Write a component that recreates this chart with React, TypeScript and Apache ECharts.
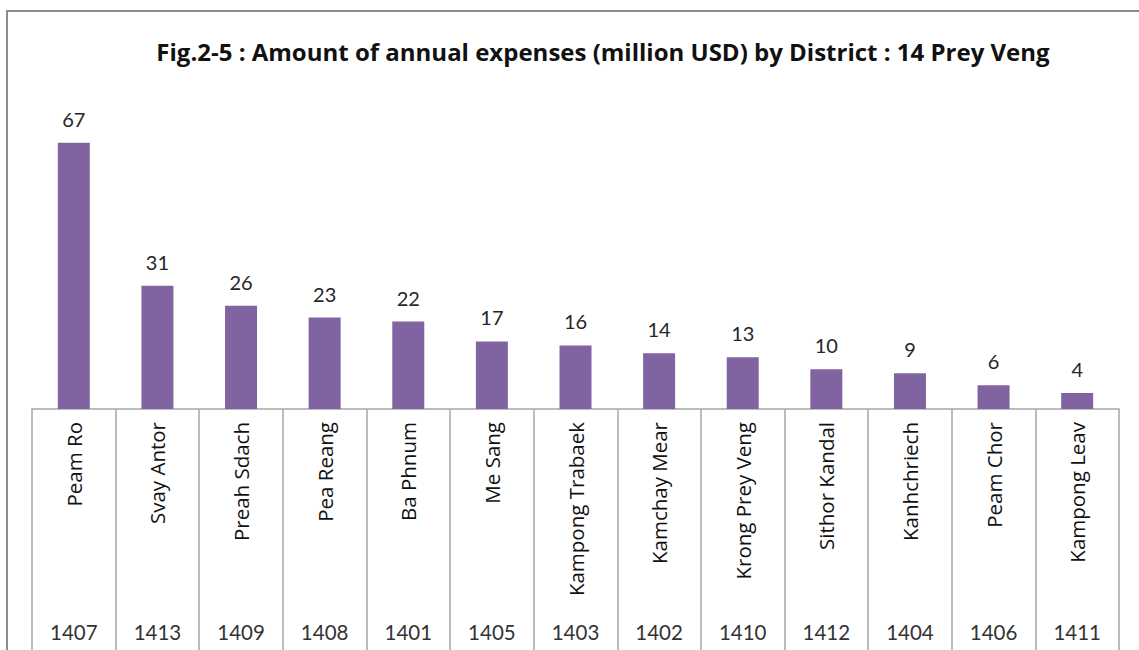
import React, { useEffect, useRef } from "react";
import * as echarts from "echarts";

const titleText = "Fig.2-5 : Amount of annual expenses (million USD) by District : 14 Prey Veng";
const districts = [
  "Peam Ro", "Svay Antor", "Preah Sdach", "Pea Reang", "Ba Phnum", "Me Sang",
  "Kampong Trabaek", "Kamchay Mear", "Krong Prey Veng", "Sithor Kandal",
  "Kanhchriech", "Peam Chor", "Kampong Leav",
];
const codes = ["1407", "1413", "1409", "1408", "1401", "1405", "1403", "1402", "1410", "1412", "1404", "1406", "1411"];
const expenses = [67, 31, 26, 23, 22, 17, 16, 14, 13, 10, 9, 6, 4];

const FONT = "Lato, 'Noto Sans', sans-serif";
const WIDE = "'Open Sans', 'Noto Sans', sans-serif";

export default function App() {
  const ref = useRef<HTMLDivElement>(null);
  useEffect(() => {
    if (!ref.current) return;
    const chart = echarts.init(ref.current, null, { renderer: "svg" });
    chart.setOption({
      animation: false,
      backgroundColor: "#ffffff",
      title: {
        text: titleText,
        left: 598,
        textAlign: "center",
        top: 34,
        textStyle: { fontFamily: WIDE, fontWeight: "bold", fontSize: 24, color: "#111" },
      },
      grid: { left: 32, right: 20, top: 91, bottom: 241, containLabel: false },
      xAxis: [
        {
          type: "category",
          data: districts,
          position: "bottom",
          axisLine: { show: true, lineStyle: { color: "#a6a6a6", width: 1.5 } },
          axisTick: { show: true, interval: 0, length: 245, lineStyle: { color: "#a6a6a6", width: 1.5 } },
          axisLabel: {
            interval: 0,
            rotate: 90,
            margin: 13,
            fontFamily: WIDE,
            fontSize: 20.5,
            color: "#111",
          },
        },
        {
          type: "category",
          data: codes,
          position: "bottom",
          offset: 204,
          axisLine: { show: false },
          axisTick: { show: false },
          axisLabel: { interval: 0, margin: 8, fontFamily: FONT, fontSize: 20.5, color: "#333" },
        },
      ],
      yAxis: { type: "value", min: 0, max: 80, show: false },
      series: [
        {
          type: "bar",
          data: expenses,
          xAxisIndex: 0,
          barWidth: 32,
          itemStyle: { color: "#8064A2" },
          label: {
            show: true,
            position: "top",
            distance: 14,
            fontFamily: FONT,
            fontSize: 20,
            color: "#262626",
          },
        },
      ],
      graphic: [
        {
          type: "rect",
          shape: { x: 7, y: 11, width: 1200, height: 700 },
          style: { fill: "none", stroke: "#8c8c8c", lineWidth: 2 },
          silent: true,
        },
      ],
    });
    return () => chart.dispose();
  }, []);
  return <div ref={ref} style={{ position: "absolute", left: 0, top: 0, width: 1139, height: 650 }} />;
}
